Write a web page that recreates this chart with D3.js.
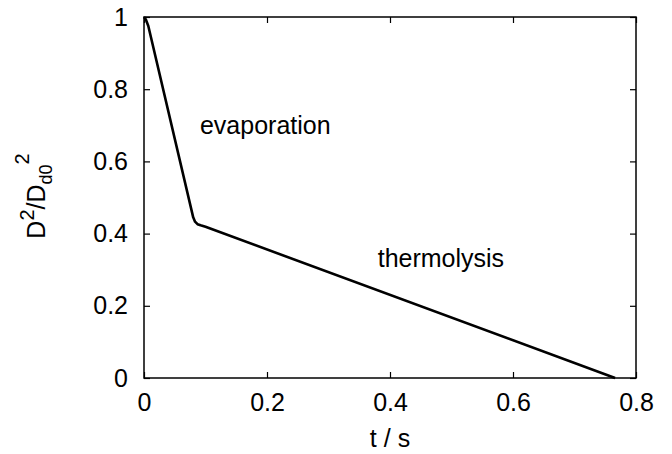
<!DOCTYPE html>
<html>
<head>
  <meta charset="utf-8">
  <title>D2 law</title>
  <script src="https://d3js.org/d3.v7.min.js"></script>
  <style>
    body { margin: 0; background: #fff; font-family: "Liberation Sans", Arial, sans-serif; }
    .tick text { font-size: 25px; font-family: "Liberation Sans", Arial, sans-serif; }
  </style>
</head>
<body>
  <div id="chart"></div>
  <script>
    // curve: time (s) and normalised squared diameter
    const tData = [0, 0.003, 0.007, 0.080, 0.083, 0.087, 0.092, 0.100, 0.766];
    const dData = [1, 0.993, 0.975, 0.445, 0.433, 0.426, 0.423, 0.419, 0];
    const xTicks = [0, 0.2, 0.4, 0.6, 0.8];
    const yTicks = [0, 0.2, 0.4, 0.6, 0.8, 1];
    const labels = [
      { text: "evaporation", t: 0.091, v: 0.675 },
      { text: "thermolysis", t: 0.380, v: 0.308 }
    ];

    const width = 672, height = 454;
    const margin = { top: 17, right: 36, bottom: 76, left: 144 };
    const w = width - margin.left - margin.right;
    const h = height - margin.top - margin.bottom;

    const svg = d3.select("#chart").append("svg")
      .attr("width", width).attr("height", height);
    const g = svg.append("g")
      .attr("transform", "translate(" + margin.left + "," + margin.top + ")");

    const x = d3.scaleLinear().domain([0, 0.8]).range([0, w]);
    const y = d3.scaleLinear().domain([0, 1]).range([h, 0]);
    const fmt = d => d === 0 ? "0" : d === 1 ? "1" : d3.format(".1f")(d);

    // axes with inward ticks, mirrored on top and right
    const ax = [
      d3.axisBottom(x).tickValues(xTicks).tickSize(-6).tickPadding(10).tickFormat(fmt),
      d3.axisTop(x).tickValues(xTicks).tickSize(-6).tickFormat(""),
      d3.axisLeft(y).tickValues(yTicks).tickSize(-6).tickPadding(16).tickFormat(fmt),
      d3.axisRight(y).tickValues(yTicks).tickSize(-6).tickFormat("")
    ];
    const pos = ["translate(0," + h + ")", null, null, "translate(" + w + ",0)"];
    ax.forEach((a, i) => {
      const s = g.append("g").attr("transform", pos[i]).call(a);
      s.select(".domain").remove();
      s.selectAll(".tick line").attr("stroke", "#000").attr("stroke-width", 1.2);
      s.selectAll(".tick text").attr("fill", "#000");
    });
    g.selectAll(".tick text").filter(function() { return this.getAttribute("y") && +this.getAttribute("y") > 0; })
      .attr("dy", "0.9em");

    g.append("rect").attr("width", w).attr("height", h)
      .attr("fill", "none").attr("stroke", "#000").attr("stroke-width", 1.5);

    const line = d3.line()
      .x((d, i) => x(tData[i]))
      .y((d, i) => y(dData[i]));
    g.append("path").datum(dData).attr("d", line)
      .attr("fill", "none").attr("stroke", "#000").attr("stroke-width", 2.6)
      .attr("stroke-linejoin", "round");

    g.selectAll(".lab").data(labels).enter().append("text")
      .attr("x", d => x(d.t)).attr("y", d => y(d.v))
      .attr("font-size", 25).text(d => d.text);

    // axis titles
    svg.append("text").attr("x", margin.left + x(0.4)).attr("y", 447)
      .attr("text-anchor", "middle").attr("font-size", 25).text("t / s");

    const yl = svg.append("text")
      .attr("transform", "translate(45,196) rotate(-90)")
      .attr("text-anchor", "middle").attr("font-size", 25);
    yl.append("tspan").text("D");
    yl.append("tspan").attr("font-size", 20).attr("dy", -11).text("2");
    yl.append("tspan").attr("dy", 11).text("/D");
    yl.append("tspan").attr("font-size", 18).attr("dy", 7).text("d0");
    yl.append("tspan").attr("font-size", 20).attr("dy", -23).text("2");
  </script>
</body>
</html>
